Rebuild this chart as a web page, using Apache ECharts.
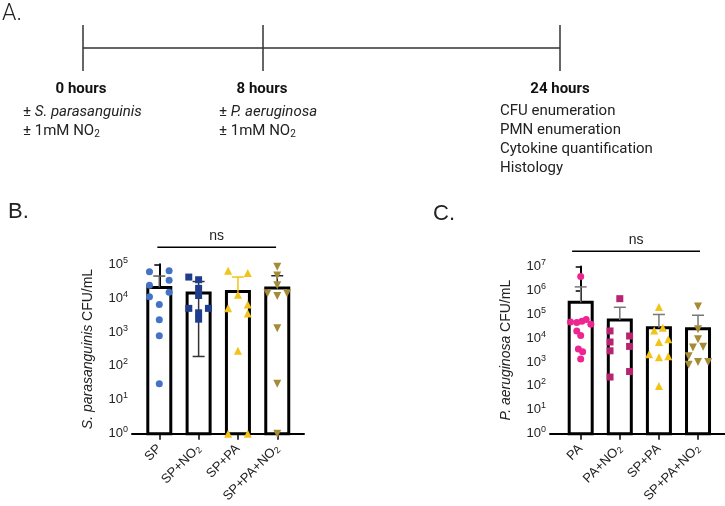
<!DOCTYPE html>
<html><head><meta charset="utf-8">
<script src="https://cdn.jsdelivr.net/npm/echarts@6/dist/echarts.min.js"></script>
<style>html,body{margin:0;padding:0;background:#fff}#c{width:725px;height:506px}</style>
</head><body><div id="c"></div>
<script>
// ---------- categories ----------
const catsB = ['SP', 'SP+NO{s|2}', 'SP+PA', 'SP+PA+NO{s|2}'];
const catsC = ['PA', 'PA+NO{s|2}', 'SP+PA', 'SP+PA+NO{s|2}'];

// ---------- Panel B: S. parasanguinis CFU/mL ----------
const bSP      = [6.0e4, 6.5e4, 2.4e4, 3.4e4, 1.1e4, 1.5e4, 6.5e3, 2.3e3, 780, 30];
const bSPoff   = [-0.25, 0.25, -0.25, 0.25, -0.25, 0.25, 0, 0, 0, 0];
const bSPNO    = [4.2e4, 3.5e4, 1.95e4, 1.2e4, 5.0e3, 5.0e3, 3.7e3, 2.4e3];
const bSPNOoff = [-0.25, 0, 0, 0, -0.25, 0.25, 0, 0];
const bSPPA    = [6.5e4, 5.5e4, 1.26e4, 5.0e3, 6.5e3, 3.5e3, 280, 1, 1];
const bSPPAoff = [-0.25, 0.25, 0, -0.25, 0.25, 0.25, 0, -0.25, 0.25];
const bAll     = [8.5e4, 4.7e4, 2.4e4, 1.4e4, 1.4e4, 1.15e4, 1.3e3, 30, 1];
const bAlloff  = [0, 0, 0, -0.25, 0.25, 0, 0, 0, 0];
const bMean    = [2.08e4, 1.42e4, 1.58e4, 2.0e4];
const bErrHi   = [4.5e4, 3.1e4, 4.2e4, 4.6e4];
const bErrLo   = [null, 190, null, null];

// ---------- Panel C: P. aeruginosa CFU/mL ----------
const cPA      = [3.8e6, 4.7e4, 4.5e4, 5.1e4, 6.0e4, 3.8e4, 2.0e4, 1.3e4, 3.5e3, 2.7e3, 1.35e3];
const cPAoff   = [0, -0.26, -0.1, 0.03, 0.14, 0.26, -0.1, 0, -0.06, 0.05, 0];
const cPANO    = [4.5e5, 2.0e4, 1.23e4, 6.9e3, 4.5e3, 2.95e3, 400, 235];
const cPANOoff = [0, -0.25, 0.25, -0.25, 0.25, -0.25, 0.25, -0.25];
const cSPPA    = [2.0e5, 2.1e4, 2.75e4, 6.9e3, 8.9e3, 2.1e3, 1.6e3, 1.75e3, 100];
const cSPPAoff = [0, -0.12, 0.1, 0, 0.24, -0.25, 0, 0.24, 0];
const cAll     = [2.1e5, 2.35e4, 8.9e3, 4.1e3, 4.4e3, 1.75e3, 1.0e3, 1.0e3, 760];
const cAlloff  = [0, 0, 0, -0.13, 0.13, -0.24, 0, 0.26, -0.24];
const cMean    = [3.2e5, 5.7e4, 2.75e4, 2.5e4];
const cErrHi   = [1.4e6, 1.96e5, 9.8e4, 9.1e4];
const cErrLo   = [null, null, null, null];

// significance brackets [x1, x2, y]
const bBracket = [-0.05, 2.97, 3.2e5];
const cBracket = [-0.22, 3.05, 4.4e7];

const FONT = 'Liberation Sans, Arial, sans-serif';

function pts(vals, offs, idx) { return vals.map((v, i) => [idx + offs[i], v]); }

function barRender(params, api) {
  const x = api.value(0), v = api.value(1);
  const top = api.coord([x, v]);
  const bot = api.coord([x, 1]);
  const w = 23;
  return { type: 'rect', shape: { x: top[0] - w / 2, y: top[1], width: w, height: bot[1] - top[1] },
           style: { fill: '#fff', stroke: '#000', lineWidth: 3 } };
}
function errRender(colors) {
  return function (params, api) {
    const x = api.value(0), m = api.value(1), hi = api.value(2), lo = api.value(3);
    const c = colors[params.dataIndex];
    const pHi = api.coord([x, hi]);
    const pM = api.coord([x, m]);
    const children = [];
    const cw = 6;
    let bottomY = pM[1];
    if (lo !== null && !isNaN(lo) && lo > 0) {
      const pLo = api.coord([x, lo]);
      bottomY = pLo[1];
      children.push({ type: 'line', shape: { x1: pLo[0] - cw, y1: pLo[1], x2: pLo[0] + cw, y2: pLo[1] }, style: { stroke: c, lineWidth: 1.5 } });
    }
    children.push({ type: 'line', shape: { x1: pHi[0], y1: pHi[1], x2: pHi[0], y2: bottomY }, style: { stroke: c, lineWidth: 1.5 } });
    children.push({ type: 'line', shape: { x1: pHi[0] - cw, y1: pHi[1], x2: pHi[0] + cw, y2: pHi[1] }, style: { stroke: c, lineWidth: 1.5 } });
    return { type: 'group', children };
  };
}
function bracketRender(params, api) {
  const p1 = api.coord([api.value(0), api.value(2)]);
  const p2 = api.coord([api.value(1), api.value(2)]);
  return { type: 'group', children: [
    { type: 'line', shape: { x1: p1[0], y1: p1[1], x2: p2[0], y2: p2[1] }, style: { stroke: '#000', lineWidth: 1.5 } },
    { type: 'text', x: (p1[0] + p2[0]) / 2, y: p1[1] - 4, style: { text: 'ns', font: '14px ' + FONT, fill: '#222', align: 'center', verticalAlign: 'bottom' } }
  ] };
}

const yLabel = {
  fontFamily: FONT, fontSize: 13, color: '#222', margin: 4,
  formatter: v => '{b|10}{s|' + Math.round(Math.log10(v)) + '}',
  rich: { b: { fontSize: 13, fontFamily: FONT, color: '#222' }, s: { fontSize: 9, fontFamily: FONT, color: '#222', verticalAlign: 'bottom', padding: [0, 0, 8, 0] } }
};
function xAx(gi, min, max, cats) {
  return {
    type: 'value', gridIndex: gi, min, max,
    splitLine: { show: false },
    axisLine: { lineStyle: { color: '#000', width: 2 } },
    axisTick: { show: true, customValues: [0, 1, 2, 3], length: 6, lineStyle: { color: '#000', width: 1.5 } },
    axisLabel: { customValues: [0, 1, 2, 3], rotate: 45, margin: 13, fontFamily: FONT, fontSize: 13, color: '#222',
      formatter: v => cats[Math.round(v)],
      rich: { s: { fontSize: 9, fontFamily: FONT, color: '#222', verticalAlign: 'top', padding: [6, 0, 0, 0] } } }
  };
}
function yAx(gi, max, italic, rest) {
  return {
    type: 'log', logBase: 10, gridIndex: gi, min: 1, max,
    splitLine: { show: false }, minorTick: { show: false },
    axisLine: { show: true, lineStyle: { color: '#000', width: 2 } },
    axisTick: { show: true, length: 5, lineStyle: { color: '#000', width: 1.5 } },
    axisLabel: yLabel,
    name: '{i|' + italic + '} ' + rest, nameLocation: 'middle', nameGap: 37, nameRotate: 90,
    nameTextStyle: { fontFamily: FONT, fontSize: 14, color: '#222',
      rich: { i: { fontStyle: 'italic', fontFamily: FONT, fontSize: 14, color: '#222' } } }
  };
}

const colB = ['#4472C4', '#1F3D8C', '#F2C318', '#A68B36'];
const colC = ['#EE2590', '#B8246F', '#F2C318', '#A68B36'];
const errColB = ['#555', '#333', '#F2C318', '#222'];
const errColC = ['#777', '#777', '#777', '#777'];

function scat(gi, data, symbol, color, rot, size) {
  return { type: 'scatter', xAxisIndex: gi, yAxisIndex: gi, data, symbol, symbolSize: size,
           symbolRotate: rot || 0, itemStyle: { color, opacity: 1 }, z: 5, clip: false };
}

const option = {
  animation: false,
  grid: [
    { left: 132, right: 421, top: 264.3, bottom: 70 },
    { left: 550, right: 0, top: 266.5, bottom: 70.5 }
  ],
  xAxis: [xAx(0, -0.694, 3.68, catsB), xAx(1, -0.785, 3.69, catsC)],
  yAxis: [yAx(0, 1e5, 'S. parasanguinis', 'CFU/mL'), yAx(1, 1e7, 'P. aeruginosa', 'CFU/mL')],
  series: [
    { type: 'custom', xAxisIndex: 0, yAxisIndex: 0, renderItem: barRender, data: bMean.map((v, i) => [i, v]), z: 2, clip: false },
    { type: 'custom', xAxisIndex: 0, yAxisIndex: 0, renderItem: errRender(errColB), data: bMean.map((v, i) => [i, v, bErrHi[i], bErrLo[i] === null ? NaN : bErrLo[i]]), z: 3, clip: false },
    scat(0, pts(bSP, bSPoff, 0), 'circle', colB[0], 0, 7),
    scat(0, pts(bSPNO, bSPNOoff, 1), 'rect', colB[1], 0, 7),
    scat(0, pts(bSPPA, bSPPAoff, 2), 'triangle', colB[2], 0, 8),
    scat(0, pts(bAll, bAlloff, 3), 'triangle', colB[3], 180, 8),
    { type: 'custom', xAxisIndex: 0, yAxisIndex: 0, renderItem: bracketRender, data: [bBracket], z: 3, clip: false },

    { type: 'custom', xAxisIndex: 1, yAxisIndex: 1, renderItem: barRender, data: cMean.map((v, i) => [i, v]), z: 2, clip: false },
    { type: 'custom', xAxisIndex: 1, yAxisIndex: 1, renderItem: errRender(errColC), data: cMean.map((v, i) => [i, v, cErrHi[i], cErrLo[i] === null ? NaN : cErrLo[i]]), z: 3, clip: false },
    scat(1, pts(cPA, cPAoff, 0), 'circle', colC[0], 0, 7),
    scat(1, pts(cPANO, cPANOoff, 1), 'rect', colC[1], 0, 7),
    scat(1, pts(cSPPA, cSPPAoff, 2), 'triangle', colC[2], 0, 8),
    scat(1, pts(cAll, cAlloff, 3), 'triangle', colC[3], 180, 8),
    { type: 'custom', xAxisIndex: 1, yAxisIndex: 1, renderItem: bracketRender, data: [cBracket], z: 3, clip: false }
  ],
  graphic: [
    { type: 'text', left: 2, top: 3, style: { text: 'A.', font: '300 23px Roboto', fill: '#222' } },
    { type: 'text', left: 8, top: 201, style: { text: 'B.', font: '22px ' + FONT, fill: '#222' } },
    { type: 'text', left: 433, top: 203, style: { text: 'C.', font: '22px ' + FONT, fill: '#222' } },
    // timeline
    { type: 'line', shape: { x1: 83, y1: 48, x2: 560, y2: 48 }, style: { stroke: '#333', lineWidth: 1.5 } },
    { type: 'line', shape: { x1: 83, y1: 25, x2: 83, y2: 71 }, style: { stroke: '#333', lineWidth: 1.5 } },
    { type: 'line', shape: { x1: 263, y1: 25, x2: 263, y2: 71 }, style: { stroke: '#333', lineWidth: 1.5 } },
    { type: 'line', shape: { x1: 560, y1: 25, x2: 560, y2: 71 }, style: { stroke: '#333', lineWidth: 1.5 } },
    { type: 'text', x: 81, y: 89, style: { text: '0 hours', font: 'bold 15px Roboto', fill: '#111', align: 'center', verticalAlign: 'middle' } },
    { type: 'text', x: 262, y: 89, style: { text: '8 hours', font: 'bold 15px Roboto', fill: '#111', align: 'center', verticalAlign: 'middle' } },
    { type: 'text', x: 560, y: 89, style: { text: '24 hours', font: 'bold 15px Roboto', fill: '#111', align: 'center', verticalAlign: 'middle' } },
    { type: 'text', x: 23, y: 112, style: { text: '± {i|S. parasanguinis}', font: '15px Roboto', fill: '#222', verticalAlign: 'middle',
        rich: { i: { fontStyle: 'italic', fontFamily: 'Roboto', fontSize: 15, fill: '#222' } } } },
    { type: 'text', x: 23, y: 131, style: { text: '± 1mM NO{s|2}', font: '15px Roboto', fill: '#222', verticalAlign: 'middle',
        rich: { s: { fontFamily: 'Roboto', fontSize: 10, fill: '#222', verticalAlign: 'top', padding: [7, 0, 0, 0] } } } },
    { type: 'text', x: 219, y: 112, style: { text: '± {i|P. aeruginosa}', font: '15px Roboto', fill: '#222', verticalAlign: 'middle',
        rich: { i: { fontStyle: 'italic', fontFamily: 'Roboto', fontSize: 15, fill: '#222' } } } },
    { type: 'text', x: 219, y: 131, style: { text: '± 1mM NO{s|2}', font: '15px Roboto', fill: '#222', verticalAlign: 'middle',
        rich: { s: { fontFamily: 'Roboto', fontSize: 10, fill: '#222', verticalAlign: 'top', padding: [7, 0, 0, 0] } } } },
    { type: 'text', x: 500, y: 111, style: { text: 'CFU enumeration', font: '15px Roboto', fill: '#222', verticalAlign: 'middle' } },
    { type: 'text', x: 500, y: 130, style: { text: 'PMN enumeration', font: '15px Roboto', fill: '#222', verticalAlign: 'middle' } },
    { type: 'text', x: 500, y: 149, style: { text: 'Cytokine quantification', font: '15px Roboto', fill: '#222', verticalAlign: 'middle' } },
    { type: 'text', x: 500, y: 168, style: { text: 'Histology', font: '15px Roboto', fill: '#222', verticalAlign: 'middle' } }
  ]
};
const chart = echarts.init(document.getElementById('c'), null, { renderer: 'canvas' });
chart.setOption(option);
</script>
</body></html>
